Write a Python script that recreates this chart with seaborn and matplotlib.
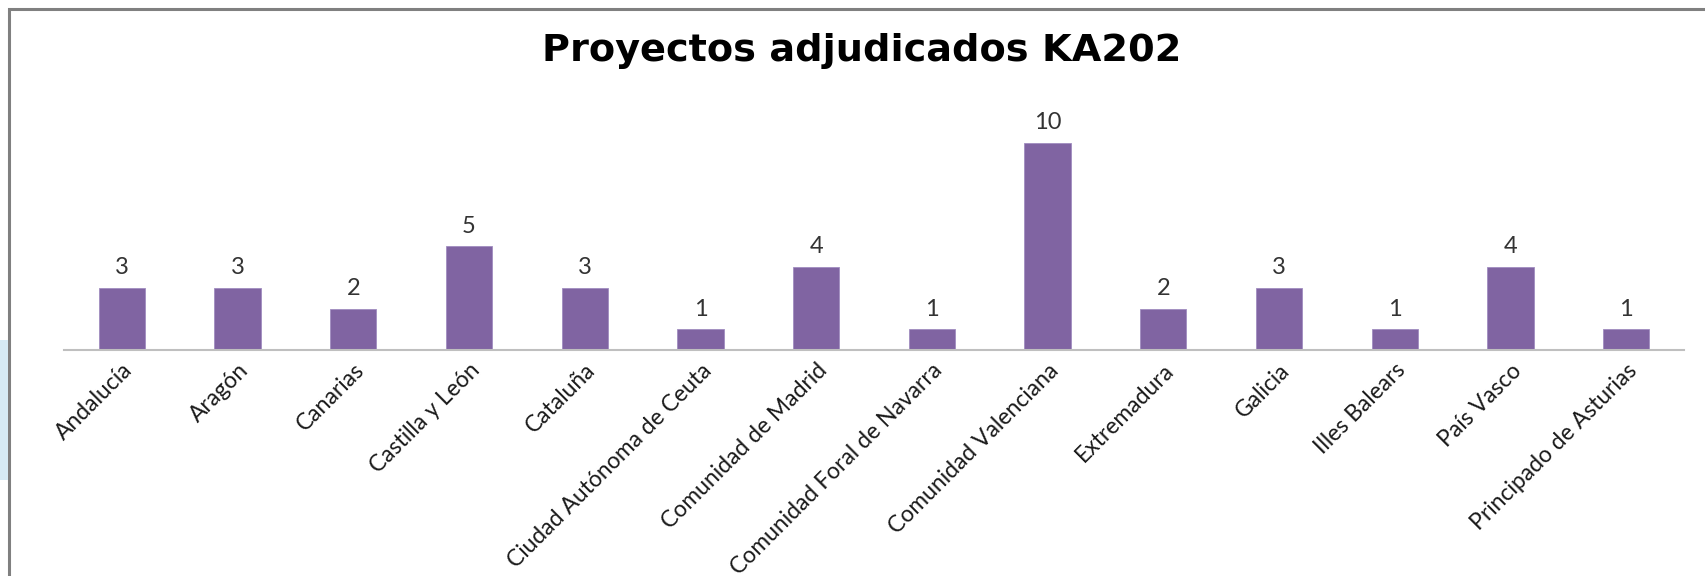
import matplotlib
matplotlib.use("Agg")
import matplotlib.pyplot as plt
import seaborn as sns
import pandas as pd
from matplotlib.patches import Rectangle

categories = ["Andalucía", "Aragón", "Canarias", "Castilla y León", "Cataluña",
              "Ciudad Autónoma de Ceuta", "Comunidad de Madrid",
              "Comunidad Foral de Navarra", "Comunidad Valenciana", "Extremadura",
              "Galicia", "Illes Balears", "País Vasco", "Principado de Asturias"]
values = [3, 3, 2, 5, 3, 1, 4, 1, 10, 2, 3, 1, 4, 1]
title = "Proyectos adjudicados KA202"

sns.set_theme(style="white")
plt.rcParams['font.family'] = ['Lato', 'DejaVu Sans']

W, H = 1706, 576
fig = plt.figure(figsize=(W / 100, H / 100), dpi=100)
fig.patch.set_facecolor("white")

ymax = 12
base_y = 350
ppu = 20.75
top_y = base_y - ymax * ppu
ax = fig.add_axes([64 / W, 1 - base_y / H, (1684 - 64) / W, (base_y - top_y) / H])

df = pd.DataFrame({"cat": categories, "val": values})
sns.barplot(data=df, x="cat", y="val", color="#8064A2", width=0.4, ax=ax,
            saturation=1, edgecolor="#a08cc0", linewidth=0.6)
ax.set_ylim(0, ymax)
ax.set_xlim(-0.5, len(categories) - 0.5)
ax.set_xlabel("")
ax.set_ylabel("")
ax.set_yticks([])
for s in ["top", "right", "left"]:
    ax.spines[s].set_visible(False)
ax.spines["bottom"].set_color("#BFBFBF")
ax.spines["bottom"].set_linewidth(1.5)
ax.tick_params(axis="x", length=0, pad=7)
ax.set_xticks(range(len(categories)))
ax.set_xticklabels(categories, rotation=45, ha="right", rotation_mode="anchor",
                   fontsize=16.5, color="#1a1a1a")
ax.patch.set_alpha(0)

for c in ax.containers:
    ax.bar_label(c, labels=[str(v) for v in values], padding=7, fontsize=17,
                 color="#333333")

fig.text(862 / W, 1 - 51 / H, title, ha="center", va="center",
         fontsize=27.5, fontweight="bold", family="DejaVu Sans", color="black")

# chart frame
fig.patches.append(Rectangle((9 / W, -0.2), 1.5, 1.2 - 9 / H, transform=fig.transFigure,
                             fill=False, edgecolor="#808080", linewidth=2.2))
fig.patches.append(Rectangle((0, 1 - 480 / H), 8 / W, 140 / H, transform=fig.transFigure,
                             facecolor="#d6eaf4", edgecolor="none"))

fig.savefig("out.png", dpi=100)
